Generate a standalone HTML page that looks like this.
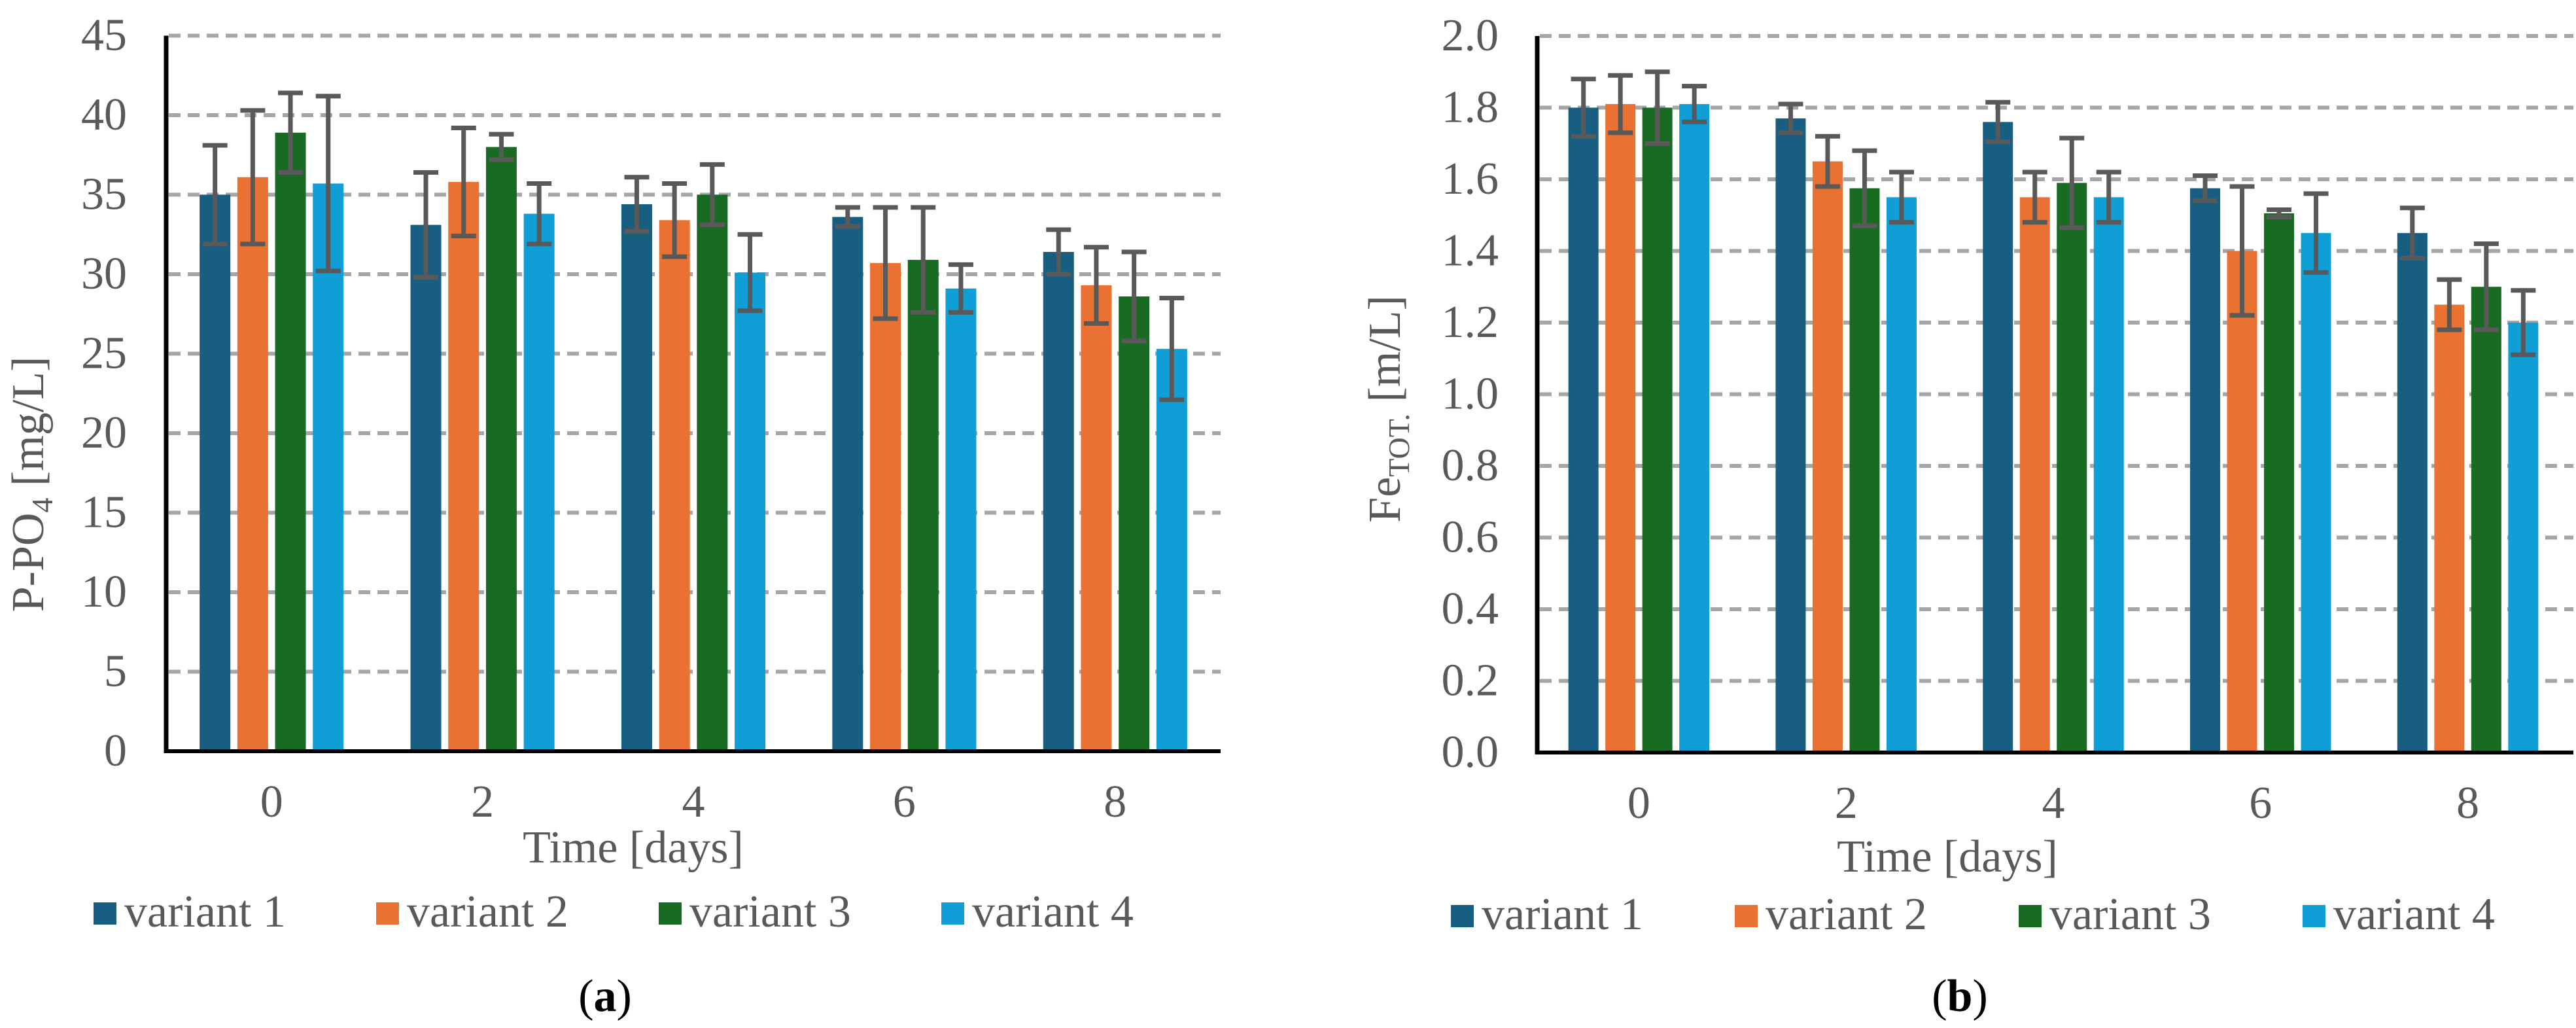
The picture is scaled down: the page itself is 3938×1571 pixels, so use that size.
<!DOCTYPE html>
<html><head><meta charset="utf-8"><style>
html,body{margin:0;padding:0;background:#fff;}
svg{display:block;font-family:"Liberation Serif","Times New Roman","DejaVu Serif",serif;}
svg text{font-family:"Liberation Serif","Times New Roman","DejaVu Serif",serif;fill:#595959;}
</style></head><body>
<svg id="fig" width="3938" height="1571" viewBox="0 0 3938 1571" xmlns="http://www.w3.org/2000/svg" font-family="Liberation Serif, Times New Roman, serif"></svg>
<script>
const categories = ["0","2","4","6","8"];
const seriesNames = ["variant 1","variant 2","variant 3","variant 4"];
const colors = ["#175e81","#e97132","#196b24","#0f9ed5"];
// Chart (a) P-PO4
const aV1 = [35.0,33.1,34.4,33.6,31.4];
const aV2 = [36.1,35.8,33.4,30.7,29.3];
const aV3 = [38.9,38.0,35.0,30.9,28.6];
const aV4 = [35.7,33.8,30.1,29.1,25.3];
const aE1 = [3.1,3.3,1.7,0.6,1.4];
const aE2 = [4.2,3.4,2.3,3.5,2.4];
const aE3 = [2.5,0.8,1.9,3.3,2.8];
const aE4 = [5.5,1.9,2.4,1.5,3.2];
const aTicks = ["0","5","10","15","20","25","30","35","40","45"];
// Chart (b) Fe TOT
const bV1 = [1.80,1.77,1.76,1.575,1.45];
const bV2 = [1.81,1.65,1.55,1.40,1.25];
const bV3 = [1.80,1.575,1.59,1.505,1.30];
const bV4 = [1.81,1.55,1.55,1.45,1.20];
const bE1 = [0.08,0.04,0.055,0.035,0.07];
const bE2 = [0.08,0.07,0.07,0.18,0.07];
const bE3 = [0.10,0.105,0.125,0.01,0.12];
const bE4 = [0.05,0.07,0.07,0.11,0.09];
const bTicks = ["0.0","0.2","0.4","0.6","0.8","1.0","1.2","1.4","1.6","1.8","2.0"];

const NS = "http://www.w3.org/2000/svg";
const svg = document.getElementById('fig');
const FF = '"Liberation Serif", "Times New Roman", serif';
function mk(tag, attrs, parent, txt){
  const e = document.createElementNS(NS, tag);
  for (const k in attrs) e.setAttribute(k, attrs[k]);
  if (tag === 'text') e.setAttribute('font-family', FF);
  if (txt !== undefined) e.textContent = txt;
  (parent||svg).appendChild(e);
  return e;
}

function chart(cfg){
  const g = mk('g', {});
  
  
  const y = v => cfg.y0 + (cfg.yTop - cfg.y0) * (v / cfg.max);
  const step = (cfg.x1 - cfg.x0) / categories.length;
  const xc = i => cfg.x0 + step * (i + 0.5) + cfg.shift;
  cfg.ticks.forEach((t, i) => {
    const v = parseFloat(t);
    const yy = y(v);
    if (v > 0) {
      const gl = mk('line', {x1: cfg.x0 + 4, x2: cfg.x1, y1: yy, y2: yy, stroke: '#a6a6a6', 'stroke-width': 6, 'stroke-dasharray': '18 11'}, g);
      
      
    }
    const tl = mk('text', {x: cfg.labelRight, y: yy + 22, 'text-anchor': 'end', 'font-size': 70}, g, t);
    
    
  });
  const vals = cfg.vals, errs = cfg.errs;
  categories.forEach((c, i) => {
    for (let s = 0; s < 4; s++) {
      const cx = xc(i) + (s - 1.5) * cfg.bstep;
      const top = y(vals[s][i]);
      const r = mk('rect', {x: cx - cfg.bw / 2, y: top, width: cfg.bw, height: cfg.y0 - top, fill: colors[s]}, g);
      
      
    }
    for (let s = 0; s < 4; s++) {
      const cx = xc(i) + (s - 1.5) * cfg.bstep;
      const hi = y(vals[s][i] + errs[s][i]), lo = y(vals[s][i] - errs[s][i]);
      const eg = mk('g', {stroke: '#595959', 'stroke-width': 7}, g);
      
      
      mk('line', {x1: cx, x2: cx, y1: hi, y2: lo}, eg);
      mk('line', {x1: cx - 19, x2: cx + 19, y1: hi, y2: hi}, eg);
      mk('line', {x1: cx - 19, x2: cx + 19, y1: lo, y2: lo}, eg);
    }
    const xl = mk('text', {x: xc(i), y: cfg.y0 + 100, 'text-anchor': 'middle', 'font-size': 70}, g, c);
    
    
  });
  const ya = mk('line', {x1: cfg.x0, x2: cfg.x0, y1: cfg.yTop, y2: cfg.y0 + 3, stroke: '#000', 'stroke-width': 7}, g);
  
  
  const xa = mk('line', {x1: cfg.x0 - 3, x2: cfg.x1, y1: cfg.y0, y2: cfg.y0, stroke: '#000', 'stroke-width': 6}, g);
  
  
  const xt = mk('text', {x: cfg.xTitleX, y: cfg.xTitleY, 'text-anchor': 'middle', 'font-size': 70}, g, 'Time [days]');
  
  
  const yt = mk('text', {transform: `translate(${cfg.yTitleX},${cfg.yTitleY}) rotate(-90)`, 'text-anchor': 'middle', 'font-size': 70}, g);
  
  
  mk('tspan', {}, yt, cfg.yMain);
  mk('tspan', {'font-size': 46, dy: 14}, yt, cfg.ySub);
  if (cfg.yRest) mk('tspan', {dy: -14}, yt, cfg.yRest);
  seriesNames.forEach((n, s) => {
    const lg = mk('g', {}, g);
    
    
    const lx = cfg.legX + s * cfg.legStep;
    mk('rect', {x: lx, y: cfg.legY, width: 35, height: 34, fill: colors[s]}, lg);
    mk('text', {x: lx + 47, y: cfg.legY + 37, 'font-size': 70}, lg, n);
  });
  const pl = mk('text', {x: cfg.panelX, y: 1545, 'text-anchor': 'middle', 'font-size': 70}, g);
  
  
  mk('tspan', {style: 'fill:#000'}, pl, '(');
  mk('tspan', {style: 'fill:#000;font-weight:bold'}, pl, cfg.panel);
  mk('tspan', {style: 'fill:#000'}, pl, ')');
}

chart({name: 'chart-a', x0: 254, x1: 1866, y0: 1148, yTop: 54.5, max: 45, shift: 0,
  bw: 47, bstep: 57.7, ticks: aTicks, vals: [aV1, aV2, aV3, aV4], errs: [aE1, aE2, aE3, aE4],
  labelRight: 194, xTitleX: 968, xTitleY: 1318, yTitleX: 66, yTitleY: 740,
  yMain: 'P-PO', ySub: '4', yRest: ' [mg/L]',
  legX: 143, legStep: 432, legY: 1379, panelX: 925, panel: 'a'});

chart({name: 'chart-b', x0: 2350, x1: 3934, y0: 1150, yTop: 55, max: 2.0, shift: -3,
  bw: 46, bstep: 56.5, ticks: bTicks, vals: [bV1, bV2, bV3, bV4], errs: [bE1, bE2, bE3, bE4],
  labelRight: 2291, xTitleX: 2977, xTitleY: 1332, yTitleX: 2140, yTitleY: 625,
  yMain: 'Fe', ySub: 'TOT.', yRest: ' [m/L]',
  legX: 2218, legStep: 434, legY: 1383, panelX: 2996, panel: 'b'});
</script>
</body></html>
